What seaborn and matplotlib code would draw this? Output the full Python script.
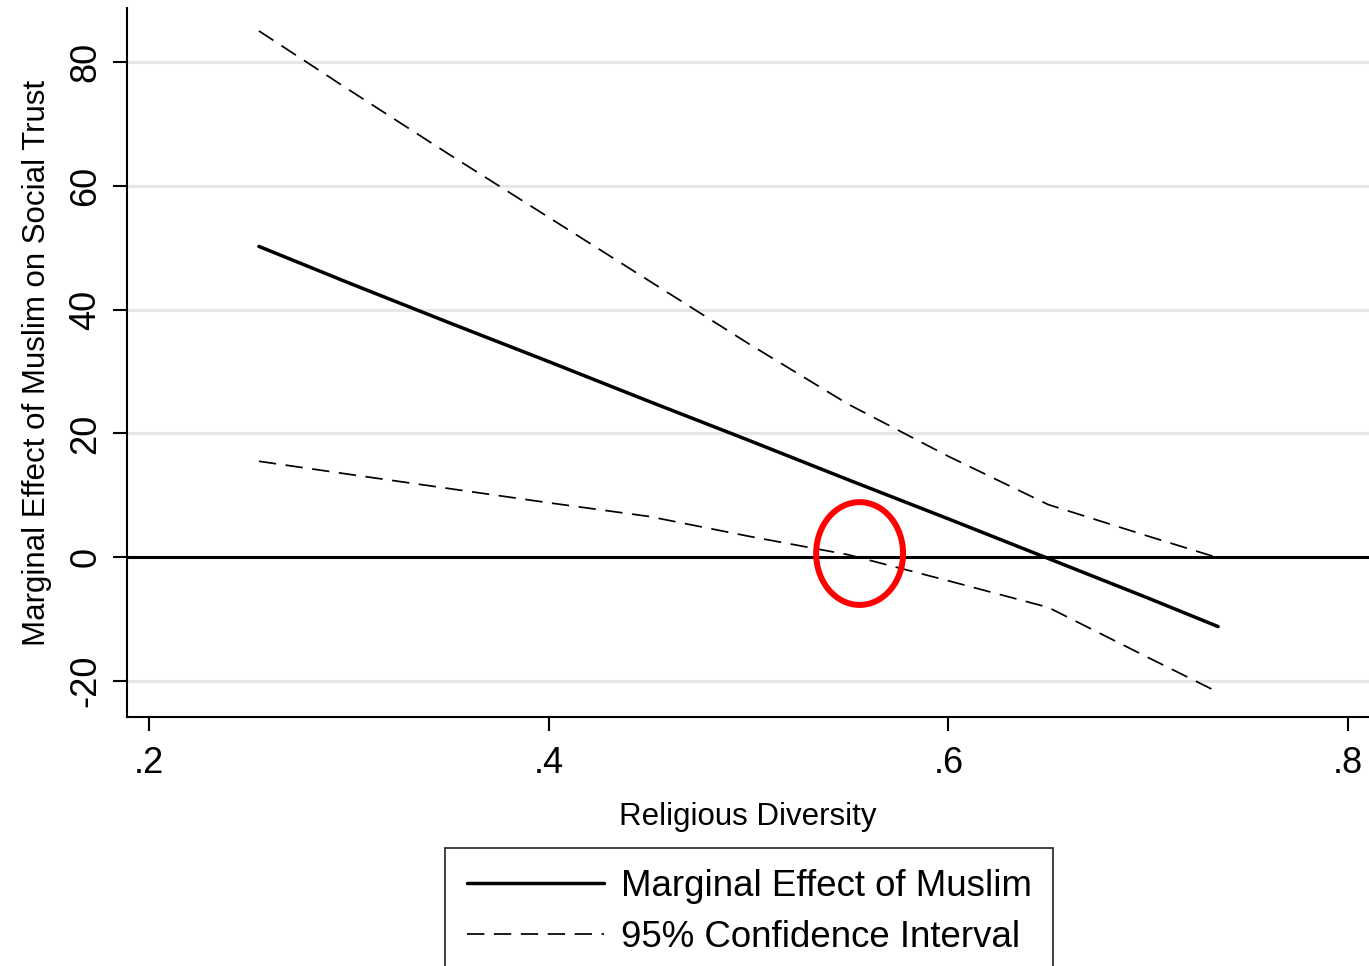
import pandas as pd
import matplotlib
matplotlib.use('Agg')
import matplotlib.pyplot as plt
import seaborn as sns
from matplotlib.patches import Ellipse
from matplotlib.lines import Line2D

# values
diversity = [0.255, 0.30, 0.35, 0.40, 0.45, 0.50, 0.55, 0.60, 0.65, 0.70, 0.735]
marginal = [50.2, 44.3, 37.9, 31.6, 25.2, 18.9, 12.5, 6.2, -0.2, -6.6, -11.2]
ci_upper = [85.0, 75.5, 65.1, 54.9, 44.7, 34.5, 24.7, 16.3, 8.5, 3.4, -0.1]
ci_lower = [15.5, 13.4, 11.1, 8.8, 6.6, 3.4, 0.4, -3.8, -8.1, -16.2, -21.8]

yticks = [-20, 0, 20, 40, 60, 80]
xticks = [0.2, 0.4, 0.6, 0.8]
xtick_labels = ['.2', '.4', '.6', '.8']

df = pd.DataFrame({'x': diversity, 'me': marginal, 'hi': ci_upper, 'lo': ci_lower})

sns.set_style('white', {'xtick.bottom': True, 'ytick.left': True,
                        'text.color': 'black', 'axes.labelcolor': 'black',
                        'xtick.color': 'black', 'ytick.color': 'black'})
plt.rcParams['font.family'] = ['Liberation Sans', 'DejaVu Sans']

fig = plt.figure(figsize=(13.69, 9.66), dpi=100)
ax = fig.add_axes([127 / 1369, 249 / 966, 1242 / 1369, 709 / 966])

# grid lines (Stata style)
for yv in yticks:
    if yv != 0:
        ax.axhline(yv, color='#e6e6e6', lw=2.2, zorder=0)
ax.axhline(0, color='black', lw=2.2, zorder=1)

dash = (10, 5.5)
sns.lineplot(data=df, x='x', y='hi', ax=ax, color='black', lw=1.25, zorder=2)
ax.lines[-1].set_dashes(dash)
sns.lineplot(data=df, x='x', y='lo', ax=ax, color='black', lw=1.25, zorder=2)
ax.lines[-1].set_dashes(dash)
sns.lineplot(data=df, x='x', y='me', ax=ax, color='black', lw=2.5, zorder=3)

# red circle highlighting where the lower bound crosses zero
ax.add_patch(Ellipse((0.5556, 0.6), 0.0435, 16.6, fill=False,
                     edgecolor='red', lw=4.3, zorder=4))

ax.set_xlim(0.189, 0.8105)
ax.set_ylim(-25.8, 88.7)
ax.set_xticks(xticks)
ax.set_xticklabels(xtick_labels)
ax.set_yticks(yticks)
ax.set_yticklabels([str(v) for v in yticks], rotation=90, va='center')

ax.tick_params(axis='both', direction='out', length=10, width=1.5,
               labelsize=26, color='black', labelcolor='black',
               bottom=True, left=True)
ax.tick_params(axis='x', pad=11)
ax.tick_params(axis='y', pad=7)
sns.despine(ax=ax)
for s in ['left', 'bottom']:
    ax.spines[s].set_linewidth(1.5)
    ax.spines[s].set_color('black')

ax.set_xlabel('Religious Diversity', fontsize=22.5, labelpad=15, color='black')
ax.set_ylabel('Marginal Effect of Muslim on Social Trust', fontsize=22.5,
              labelpad=12, color='black')

handles = [Line2D([], [], color='black', lw=2.5),
           Line2D([], [], color='black', lw=1.25, dashes=dash)]
leg = fig.legend(handles, ['Marginal Effect of Muslim', '95% Confidence Interval'],
                 loc='upper center', bbox_to_anchor=(749 / 1369, 1 - 848 / 966),
                 fontsize=26.4, frameon=True, fancybox=False, edgecolor='black',
                 handlelength=3.75, handletextpad=0.45, labelspacing=0.42,
                 borderpad=0.58, borderaxespad=0)
leg.get_frame().set_linewidth(1.3)
for t in leg.get_texts():
    t.set_color('black')

fig.savefig('out.png', dpi=100)
